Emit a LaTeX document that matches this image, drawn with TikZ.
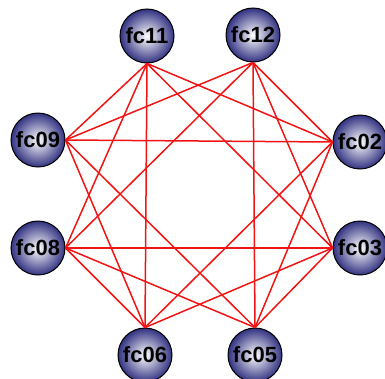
\documentclass[tikz,border=0pt]{standalone}
\usepackage{fontspec}
\setmainfont{Liberation Sans}
\definecolor{navy}{RGB}{50,50,130}
\definecolor{edgered}{RGB}{240,20,20}
\begin{document}
\begin{tikzpicture}[x=1pt,y=-1pt,
  fcnode/.style={circle, draw=black, line width=1pt, minimum size=54pt, inner sep=0pt,
    inner color=white, outer color=navy, font=\fontsize{22}{22}\selectfont\bfseries},
  link/.style={draw=edgered, line width=1.5pt}]
\useasboundingbox (0,0) rectangle (385,378);
\node[fcnode] (fc11) at (147,36) {fc11};
\node[fcnode] (fc12) at (253,35) {fc12};
\node[fcnode] (fc09) at (38,140) {fc09};
\node[fcnode] (fc02) at (360,142) {fc02};
\node[fcnode] (fc08) at (38,248) {fc08};
\node[fcnode] (fc03) at (360,248) {fc03};
\node[fcnode] (fc06) at (145,355) {fc06};
\node[fcnode] (fc05) at (255,355) {fc05};
% matching edges
\draw[link] (fc11.south) -- (fc09.east);
\draw[link] (fc12.south) -- (fc02.west);
\draw[link] (fc03.west) -- (fc05.north);
\draw[link] (fc06.north) -- (fc08.east);
% offset 2
\draw[link] (fc11.south) -- (fc02.west);
\draw[link] (fc12.south) -- (fc03.west);
\draw[link] (fc02.west) -- (fc05.north);
\draw[link] (fc03.west) -- (fc06.north);
\draw[link] (fc05.north) -- (fc08.east);
\draw[link] (fc06.north) -- (fc09.east);
\draw[link] (fc08.east) -- (fc11.south);
\draw[link] (fc09.east) -- (fc12.south);
% offset 3
\draw[link] (fc11.south) -- (fc03.west);
\draw[link] (fc12.south) -- (fc05.north);
\draw[link] (fc02.west) -- (fc06.north);
\draw[link] (fc03.west) -- (fc08.east);
\draw[link] (fc05.north) -- (fc09.east);
\draw[link] (fc06.north) -- (fc11.south);
\draw[link] (fc08.east) -- (fc12.south);
\draw[link] (fc09.east) -- (fc02.west);
\end{tikzpicture}
\end{document}
